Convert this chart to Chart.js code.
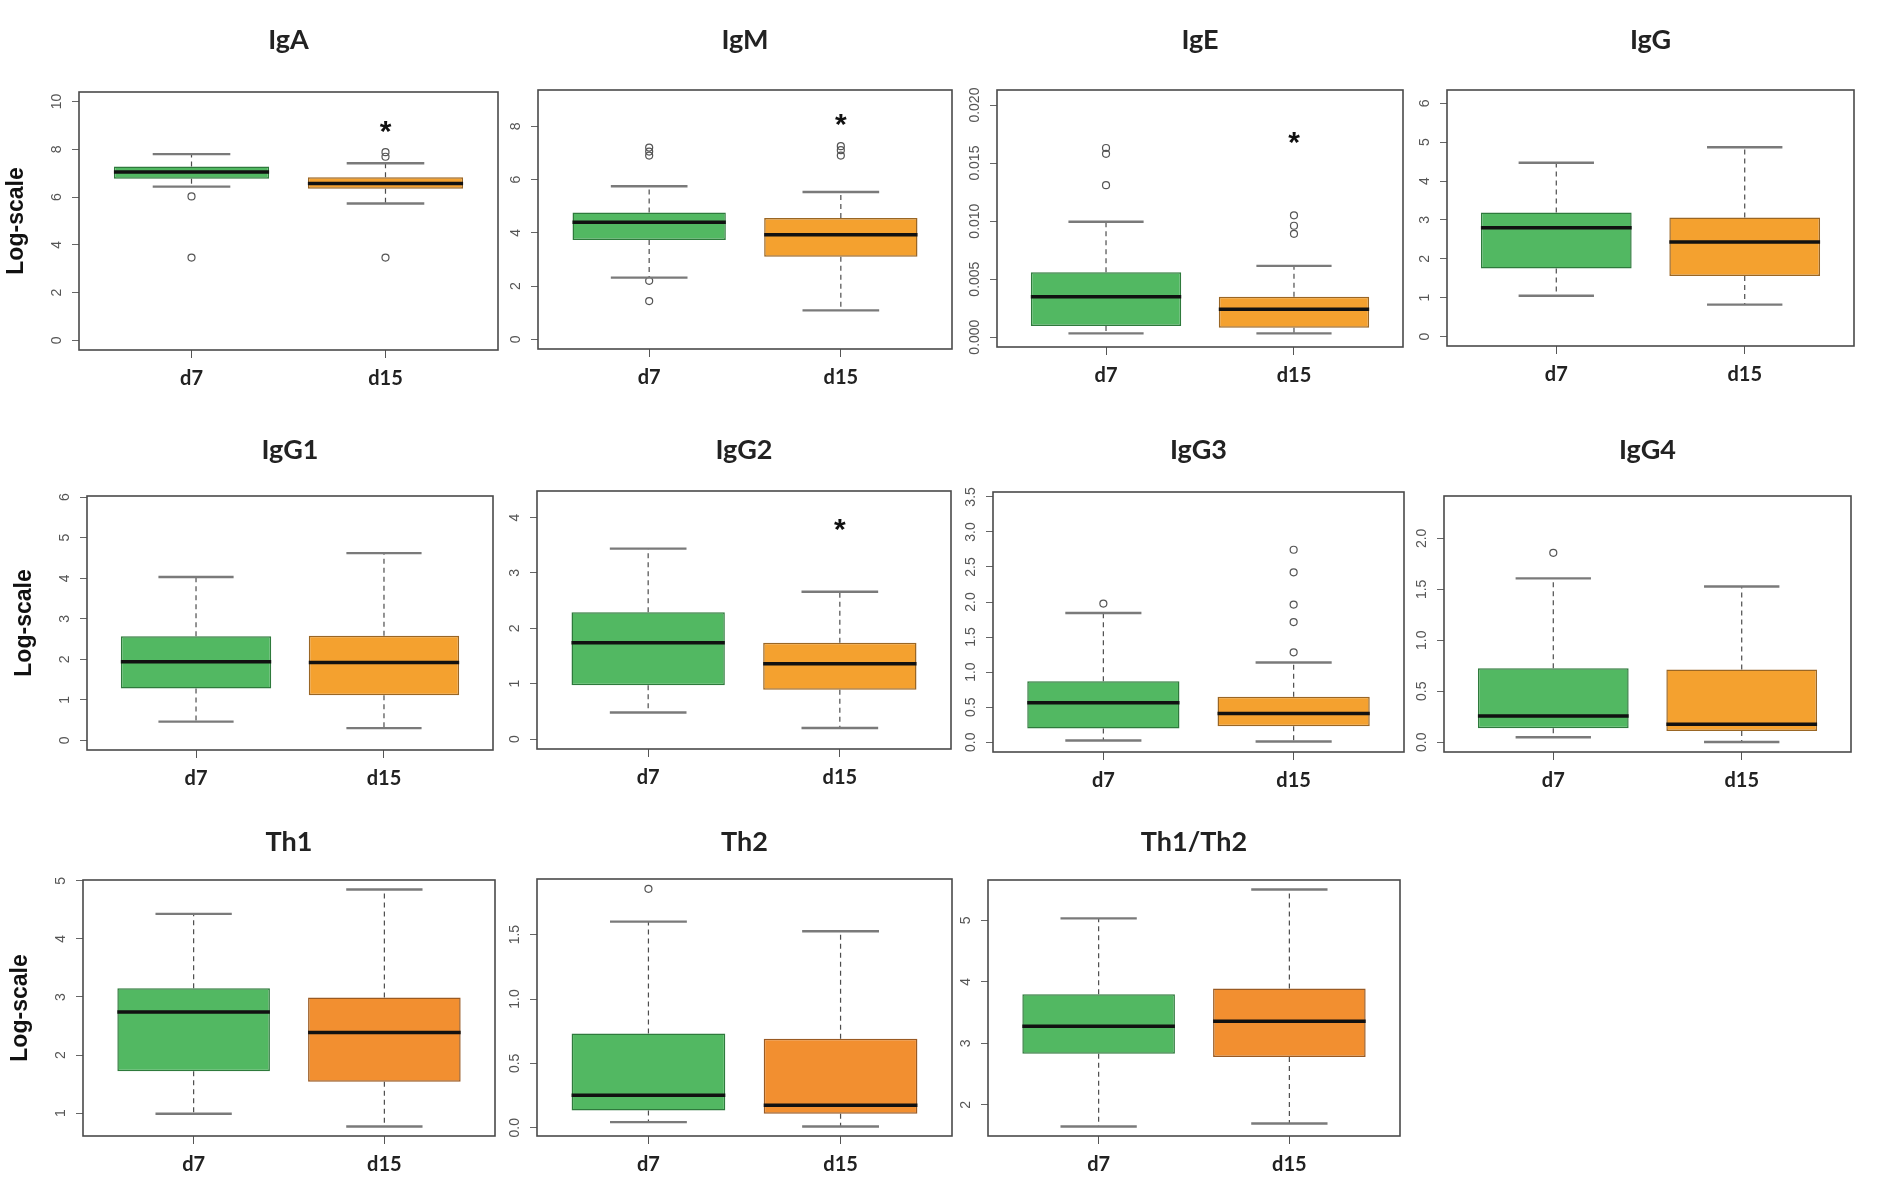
<!DOCTYPE html>
<html>
<head>
<meta charset="utf-8">
<script src="https://cdn.jsdelivr.net/npm/chart.js@4.4.1/dist/chart.umd.min.js"></script>
<style>
  body { margin: 0; background: #fff; width: 1892px; height: 1196px; position: relative; overflow: hidden; }
  canvas { position: absolute; }
</style>
</head>
<body>
<script>
// ---- data ----
const panels = ['IgA', 'IgM', 'IgE', 'IgG', 'IgG1', 'IgG2', 'IgG3', 'IgG4', 'Th1', 'Th2', 'Th1/Th2'];
const groups = ['d7', 'd15'];

const lowWhisker    = [[6.44, 5.73], [2.32, 1.09], [0.00032, 0.00032], [1.05, 0.82], [0.46, 0.30], [0.48, 0.20], [0.024, 0.010], [0.050, 0.003], [0.99, 0.77], [0.044, 0.010], [1.65, 1.70]];
const lowerQuartile = [[6.77, 6.35], [3.73, 3.10], [0.00096, 0.00081], [1.75, 1.56], [1.28, 1.11], [0.97, 0.89], [0.197, 0.226], [0.139, 0.112], [1.72, 1.54], [0.135, 0.109], [2.83, 2.78]];
const medians       = [[7.05, 6.57], [4.40, 3.93], [0.00348, 0.00241], [2.80, 2.43], [1.94, 1.92], [1.74, 1.36], [0.562, 0.408], [0.257, 0.178], [2.74, 2.39], [0.252, 0.174], [3.28, 3.36]];
const upperQuartile = [[7.28, 6.83], [4.76, 4.56], [0.00559, 0.00348], [3.19, 3.06], [2.57, 2.58], [2.29, 1.74], [0.869, 0.648], [0.726, 0.713], [3.15, 2.99], [0.733, 0.691], [3.80, 3.89]];
const highWhisker   = [[7.80, 7.42], [5.75, 5.53], [0.00994, 0.00614], [4.47, 4.87], [4.03, 4.62], [3.44, 2.66], [1.843, 1.138], [1.607, 1.528], [4.43, 4.85], [1.601, 1.526], [5.03, 5.50]];
const outliers = [
  [[6.03, 3.47], [7.88, 7.69, 3.47]],
  [[7.20, 7.05, 6.90, 2.20, 1.44], [7.25, 7.10, 6.90]],
  [[0.0163, 0.0158, 0.0131], [0.0105, 0.0096, 0.0089]],
  [[], []],
  [[], []],
  [[], []],
  [[1.978], [2.746, 2.424, 1.963, 1.714, 1.282]],
  [[1.858], []],
  [[], []],
  [[1.856], []],
  [[], []]
];
const stars = [8.86, 8.17, 0.0170, null, null, 3.83, null, null, null, null, null];

const yTicks = [
  [0, 2, 4, 6, 8, 10], [0, 2, 4, 6, 8], [0, 0.005, 0.010, 0.015, 0.020], [0, 1, 2, 3, 4, 5, 6],
  [0, 1, 2, 3, 4, 5, 6], [0, 1, 2, 3, 4], [0, 0.5, 1, 1.5, 2, 2.5, 3, 3.5], [0, 0.5, 1, 1.5, 2],
  [1, 2, 3, 4, 5], [0, 0.5, 1, 1.5], [2, 3, 4, 5]
];
const yLimits = [
  [-0.4, 10.4], [-0.36, 9.36], [-0.00085, 0.0213], [-0.244, 6.344],
  [-0.24, 6.03], [-0.18, 4.48], [-0.14, 3.57], [-0.095, 2.415],
  [0.607, 5.014], [-0.064, 1.932], [1.496, 5.654]
];

// ---- layout: plot frame on the page [left, top, right, bottom] and title centre ----
const frames = [
  [79, 92, 498, 350], [538, 90, 952, 349], [997, 90, 1403, 347], [1447, 90, 1854, 346],
  [87, 496, 493, 750], [537, 491, 951, 749], [993, 492, 1404, 752], [1444, 496, 1851, 752],
  [83, 880, 495, 1136], [537, 879, 952, 1136], [988, 880, 1400, 1136]
];
const titleCentre = [40, 40, 40, 40, 450, 450, 450, 450, 842, 842, 842];

const GREEN = '#52b862', GREEN_EDGE = '#2e7a3c';
const orangeFill = i => i < 8 ? '#f4a12f' : '#f28f30';
const orangeEdge = i => i < 8 ? '#9a6624' : '#9a5a22';

function seg(ctx, x1, y1, x2, y2) {
  ctx.beginPath(); ctx.moveTo(x1, y1); ctx.lineTo(x2, y2); ctx.stroke();
}

const boxPlot = {
  id: 'boxPlot',
  afterDatasetsDraw(chart, args, opts) {
    const { ctx, chartArea: a, scales: { x, y } } = chart;
    const i = opts.panel;
    const halfBox = (x.getPixelForValue(2) - x.getPixelForValue(1)) * 0.4;
    ctx.save();
    groups.forEach((g, k) => {
      const cx = x.getPixelForValue(k + 1);
      const yHi = y.getPixelForValue(highWhisker[i][k]);
      const yLo = y.getPixelForValue(lowWhisker[i][k]);
      ctx.strokeStyle = '#4d4d4d'; ctx.lineWidth = 1.2; ctx.setLineDash([5, 4]);
      seg(ctx, cx, y.getPixelForValue(upperQuartile[i][k]), cx, yHi);
      seg(ctx, cx, y.getPixelForValue(lowerQuartile[i][k]), cx, yLo);
      ctx.setLineDash([]);
      ctx.strokeStyle = '#7a7a7a'; ctx.lineWidth = 2.4;
      seg(ctx, cx - halfBox / 2, yHi, cx + halfBox / 2, yHi);
      seg(ctx, cx - halfBox / 2, yLo, cx + halfBox / 2, yLo);
      const ym = y.getPixelForValue(medians[i][k]);
      ctx.strokeStyle = '#111'; ctx.lineWidth = 3.5;
      seg(ctx, cx - halfBox, ym, cx + halfBox, ym);
    });
    // frame
    ctx.strokeStyle = '#4a4a4a'; ctx.lineWidth = 1.6;
    ctx.strokeRect(a.left, a.top, a.right - a.left, a.bottom - a.top);
    // y tick labels, parallel to the axis
    const dec = Math.max(...yTicks[i].map(v => (String(v).split('.')[1] || '').length));
    ctx.fillStyle = '#555'; ctx.font = '14px "Liberation Sans", Arial, sans-serif';
    ctx.textAlign = 'center'; ctx.textBaseline = 'middle';
    y.ticks.forEach(t => {
      ctx.save();
      ctx.translate(a.left - 22, y.getPixelForValue(t.value));
      ctx.rotate(-Math.PI / 2);
      ctx.fillText(t.value.toFixed(dec), 0, 0);
      ctx.restore();
    });
    // significance mark
    if (stars[i] !== null) {
      ctx.fillStyle = '#111'; ctx.font = 'bold 30px "Liberation Sans", Arial, sans-serif';
      ctx.textBaseline = 'alphabetic';
      ctx.fillText('*', x.getPixelForValue(2), y.getPixelForValue(stars[i]) + 12);
    }
    ctx.restore();
  }
};

panels.forEach((name, i) => {
  const [l, t, r, b] = frames[i];
  const firstCol = l < 200;
  const side = firstCol ? 80 : 45;
  const xh = 60;
  const top = titleCentre[i] - 21;
  const canvas = document.createElement('canvas');
  canvas.width = (r - l) + 2 * side;
  canvas.height = (b - top) + xh;
  canvas.style.left = (l - side) + 'px';
  canvas.style.top = top + 'px';
  document.body.appendChild(canvas);

  const points = [];
  groups.forEach((g, k) => outliers[i][k].forEach(v => points.push({ x: k + 1, y: v })));

  new Chart(canvas.getContext('2d'), {
    type: 'bar',
    data: {
      datasets: [{
        type: 'bar',
        data: groups.map((g, k) => ({ x: k + 1, y: [lowerQuartile[i][k], upperQuartile[i][k]] })),
        backgroundColor: [GREEN, orangeFill(i)],
        borderColor: [GREEN_EDGE, orangeEdge(i)],
        borderWidth: 1.5,
        borderSkipped: false,
        barPercentage: 0.8,
        categoryPercentage: 1
      }, {
        type: 'line',
        data: points,
        showLine: false,
        pointStyle: 'circle',
        pointRadius: 3.5,
        pointBorderWidth: 1.2,
        pointBorderColor: '#555',
        pointBackgroundColor: 'rgba(0,0,0,0)'
      }]
    },
    options: {
      responsive: false,
      animation: false,
      events: [],
      layout: { padding: 0 },
      scales: {
        x: {
          type: 'linear', min: 0.42, max: 2.58, offset: false,
          afterBuildTicks: s => { s.ticks = [{ value: 1 }, { value: 2 }]; },
          afterFit: s => { s.height = xh; },
          grid: { drawOnChartArea: false, drawTicks: true, tickLength: 8, color: '#555', offset: false },
          border: { display: false },
          ticks: {
            callback: v => groups[v - 1], autoSkip: false, maxRotation: 0,
            font: { family: 'Lato', weight: 'bold', size: 20 }, color: '#222', padding: 9
          }
        },
        y: {
          type: 'linear', min: yLimits[i][0], max: yLimits[i][1],
          afterBuildTicks: s => { s.ticks = yTicks[i].map(v => ({ value: v })); },
          afterFit: s => { s.width = side; },
          grid: { drawOnChartArea: false, drawTicks: true, tickLength: 7, color: '#666' },
          border: { display: false },
          ticks: { display: false },
          title: {
            display: firstCol, text: 'Log-scale', color: '#111',
            font: { family: 'Liberation Sans', weight: 'bold', size: 23 },
            padding: { top: 4, bottom: 0 }
          }
        },
        // empty right-hand spacer so the panel title centres over the frame
        spacer: {
          type: 'linear', position: 'right', display: true,
          afterFit: s => { s.width = side; },
          grid: { display: false }, border: { display: false }, ticks: { display: false }
        }
      },
      plugins: {
        legend: { display: false },
        tooltip: { enabled: false },
        title: {
          display: true, text: name, color: '#222',
          font: { family: 'Lato', weight: 'bold', size: 27 },
          padding: { top: 5, bottom: t - titleCentre[i] - 16.4 }
        },
        boxPlot: { panel: i }
      }
    },
    plugins: [boxPlot]
  });
});
</script>
</body>
</html>
